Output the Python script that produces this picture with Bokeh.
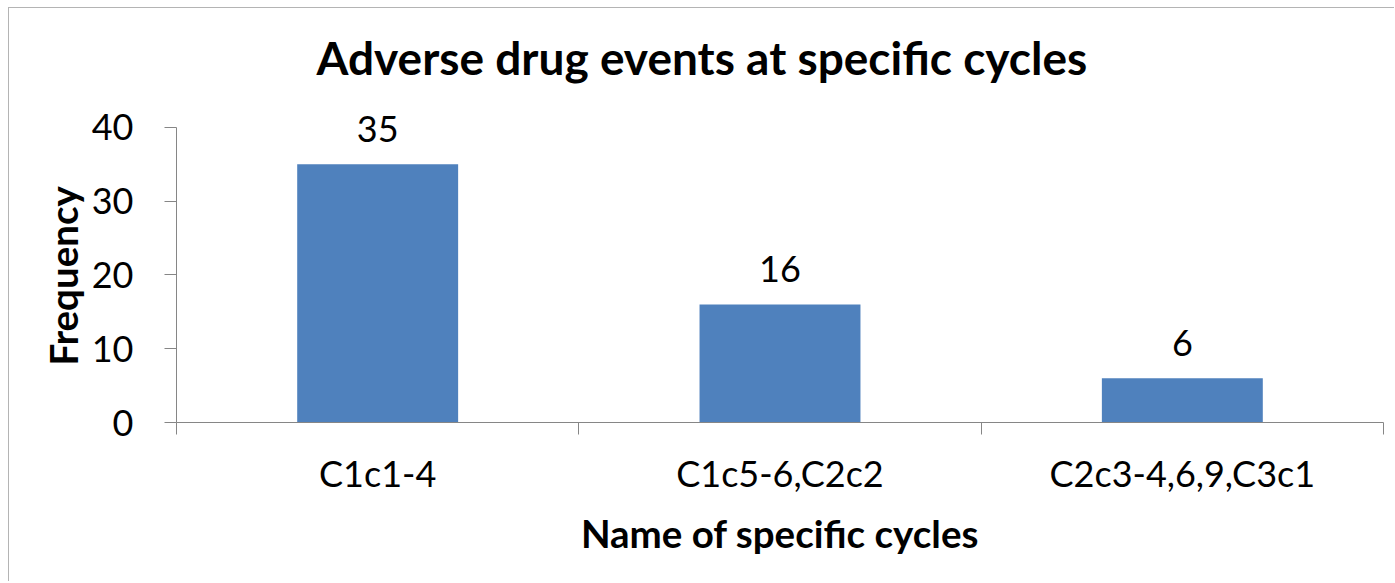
from bokeh.plotting import figure
from bokeh.models import Range1d, FixedTicker, ColumnDataSource, LabelSet, Title
from bokeh.core.properties import value
from bokeh.embed import file_html
from bokeh.resources import INLINE

categories = ["C1c1-4", "C1c5-6,C2c2", "C2c3-4,6,9,C3c1"]
frequency = [35, 16, 6]
y_ticks = [0, 10, 20, 30, 40]
title_text = "Adverse  drug events at specific cycles"
x_label = "Name of specific cycles"
y_label = "Frequency"

FONT = "Lato"
AXIS_COLOR = "#868686"
BAR_COLOR = "#4F81BD"

centers = [i + 0.5 for i in range(len(categories))]
bounds = list(range(len(categories) + 1))
src = ColumnDataSource(dict(x=centers, top=frequency, label=[str(v) for v in frequency]))

p = figure(width=1386, height=574, output_backend="svg", toolbar_location=None,
           x_range=Range1d(0, len(categories)), y_range=Range1d(0, 43.93),
           min_border_left=167, min_border_right=12, min_border_top=90, min_border_bottom=160)
p.styles = {"margin-left": "8px", "margin-top": "7px",
            "border-left": "1px solid #b4b4b4", "border-top": "1px solid #b4b4b4"}

p.title.text = title_text
p.title.text_font = FONT
p.title.text_font_style = "bold"
p.title.text_font_size = "46px"
p.title.align = "left"
p.title.offset = 140
p.title.standoff = 27
p.title.text_color = "black"

p.outline_line_color = None
p.xgrid.visible = False
p.ygrid.visible = False
p.background_fill_color = "white"
p.border_fill_color = "white"

p.vbar(x="x", top="top", width=0.4, bottom=0, source=src, fill_color=BAR_COLOR, line_color=None)
labels = LabelSet(x="x", y="top", text="label", source=src, text_font=value(FONT),
                  text_font_size="36px", text_align="center", text_baseline="alphabetic",
                  y_offset=22, text_color="black")
p.add_layout(labels)

xa = p.xaxis[0]
xa.ticker = FixedTicker(ticks=centers, minor_ticks=bounds)
xa.major_label_overrides = {c: lab for c, lab in zip(centers, categories)}
xa.major_tick_out = 0
xa.major_tick_in = 0
xa.minor_tick_out = 12
xa.minor_tick_in = 0
xa.minor_tick_line_color = AXIS_COLOR
xa.axis_line_color = AXIS_COLOR
xa.major_label_text_font = FONT
xa.major_label_text_font_size = "36px"
xa.major_label_text_color = "black"
xa.major_label_standoff = 16
xa.axis_label = x_label
xa.axis_label_text_font = FONT
xa.axis_label_text_font_style = "bold"
xa.axis_label_text_font_size = "38.5px"
xa.axis_label_text_color = "black"
xa.axis_label_standoff = 12

ya = p.yaxis[0]
ya.ticker = FixedTicker(ticks=y_ticks, minor_ticks=[])
ya.bounds = (0, 40)
ya.major_tick_out = 12
ya.major_tick_in = 0
ya.major_tick_line_color = AXIS_COLOR
ya.axis_line_color = AXIS_COLOR
ya.major_label_text_font = FONT
ya.major_label_text_font_size = "36px"
ya.major_label_text_color = "black"
ya.major_label_standoff = 31

# y-axis title, positioned along the 0-40 span of the axis
ylab = Title(text=y_label, align="left", offset=57, standoff=6,
             text_font=FONT, text_font_style="bold", text_font_size="38.5px",
             text_color="black")
p.add_layout(ylab, "left")

open("out.html", "w").write(file_html(p, INLINE))
